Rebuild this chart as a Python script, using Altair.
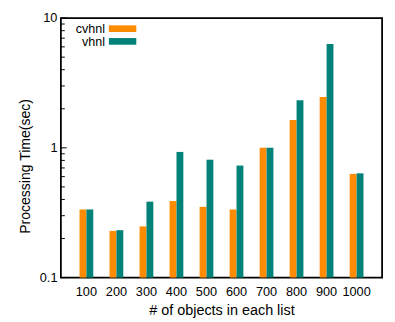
import altair as alt
import pandas as pd

categories = ["100", "200", "300", "400", "500", "600", "700", "800", "900", "1000"]
cvhnl = [0.335, 0.229, 0.248, 0.389, 0.351, 0.335, 1.0, 1.64, 2.46, 0.63]
vhnl = [0.335, 0.232, 0.385, 0.93, 0.81, 0.73, 1.0, 2.33, 6.3, 0.636]
series = ["cvhnl", "vhnl"]
colors = ["#ff8c00", "#008278"]
major_ticks = [0.1, 1, 10]
minor_ticks = [0.2, 0.3, 0.4, 0.5, 0.6, 0.7, 0.8, 0.9, 2, 3, 4, 5, 6, 7, 8, 9]
y_floor = 0.1

rows = []
for c, a, b in zip(categories, cvhnl, vhnl):
    rows.append({"n": c, "series": "cvhnl", "time": a, "base": y_floor})
    rows.append({"n": c, "series": "vhnl", "time": b, "base": y_floor})
df = pd.DataFrame(rows)

FONT = "Liberation Sans"
W, H = 328, 265

yscale = alt.Scale(type="log", domain=[0.1, 10], nice=False)

bars = alt.Chart(df).mark_bar(size=7).encode(
    x=alt.X("n:N", sort=categories,
            scale=alt.Scale(paddingInner=0.54, paddingOuter=0.62),
            axis=alt.Axis(title="# of objects in each list", labelAngle=0, ticks=False,
                          domain=False, labelPadding=8, titlePadding=5,
                          labelFontSize=13, titleFontSize=14.7, labelFont=FONT,
                          titleFont=FONT, titleFontWeight="normal", labelColor="black",
                          titleColor="black")),
    xOffset=alt.XOffset("series:N", sort=series),
    y=alt.Y("time:Q", scale=yscale,
            axis=alt.Axis(title="Processing Time(sec)", values=major_ticks, format="~g",
                          ticks=False, domain=False, grid=False, labelPadding=4,
                          titlePadding=7, labelFontSize=13, titleFontSize=14.3,
                          labelFont=FONT, titleFont=FONT, titleFontWeight="normal",
                          labelColor="black", titleColor="black", titleY=151)),
    y2="base:Q",
    color=alt.Color("series:N", scale=alt.Scale(domain=series, range=colors), legend=None),
)

major_df = pd.DataFrame({"v": major_ticks})
minor_df = pd.DataFrame({"v": minor_ticks})
major = alt.Chart(major_df).mark_rule(color="black", strokeWidth=1).encode(
    y=alt.Y("v:Q", scale=yscale), x=alt.value(0), x2=alt.value(6))
minor = alt.Chart(minor_df).mark_rule(color="black", strokeWidth=1).encode(
    y=alt.Y("v:Q", scale=yscale), x=alt.value(0), x2=alt.value(4))

legend_layers = []
for i, (s, col) in enumerate(zip(series, colors)):
    yc = 10.8 + i * 13
    d = pd.DataFrame({"label": [s]})
    legend_layers.append(alt.Chart(d).mark_rect(color=col).encode(
        x=alt.value(49), x2=alt.value(77), y=alt.value(yc - 3.4), y2=alt.value(yc + 3.4)))
    legend_layers.append(alt.Chart(d).mark_text(
        align="right", baseline="middle", fontSize=12.8, font=FONT, color="black").encode(
        x=alt.value(45), y=alt.value(yc + 0.5), text="label:N"))

chart = alt.layer(bars, major, minor, *legend_layers).properties(
    width=W, height=H,
    autosize=alt.AutoSizeParams(type="none"),
    padding={"left": 54, "top": 7, "right": 5, "bottom": 40},
    background="white",
).configure_view(stroke="black", strokeWidth=1.8)

chart.save("out.html", embed_options={"renderer": "svg", "actions": False})
